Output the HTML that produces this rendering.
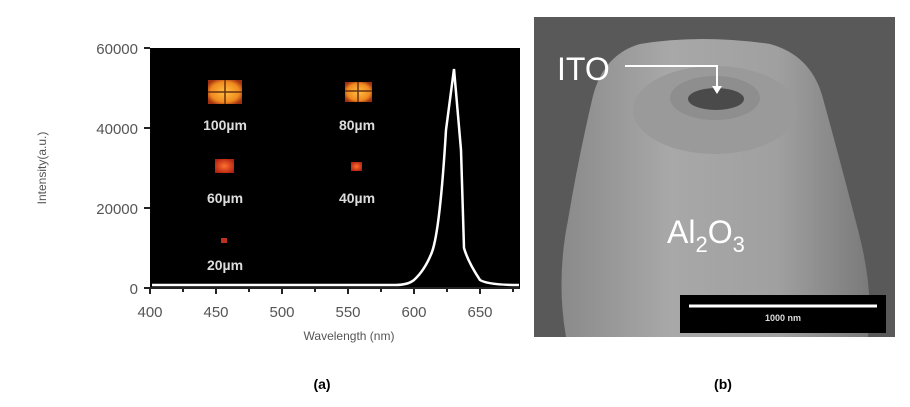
<!DOCTYPE html>
<html><head><style>
body{margin:0;width:910px;height:402px;background:#fff;overflow:hidden;font-family:"Liberation Sans",sans-serif}
</style></head><body>
<svg width="910" height="402" viewBox="0 0 910 402" xmlns="http://www.w3.org/2000/svg">
<defs>
<radialGradient id="sq" cx="50%" cy="50%" r="60%"><stop offset="0" stop-color="#ffc040"/><stop offset="0.7" stop-color="#f08a20"/><stop offset="1" stop-color="#a03010"/></radialGradient>
<radialGradient id="rd" cx="50%" cy="50%" r="60%"><stop offset="0" stop-color="#ff7030"/><stop offset="1" stop-color="#b02010"/></radialGradient>
<linearGradient id="cone" x1="0" y1="0" x2="1" y2="0"><stop offset="0" stop-color="#8a8a8a"/><stop offset="0.35" stop-color="#a8a8a8"/><stop offset="0.7" stop-color="#a0a0a0"/><stop offset="1" stop-color="#7a7a7a"/></linearGradient>
</defs>
<rect x="150" y="48" width="370" height="240" fill="#000"/>
<g stroke="#222" stroke-width="2">
<line x1="144" y1="48" x2="150" y2="48"/><line x1="144" y1="128" x2="150" y2="128"/><line x1="144" y1="208" x2="150" y2="208"/><line x1="144" y1="288" x2="150" y2="288"/>
<line x1="150" y1="288" x2="520" y2="288"/>
</g>
<g stroke="#222" stroke-width="2">
<line x1="150" y1="288" x2="150" y2="294"/><line x1="183" y1="288" x2="183" y2="292"/><line x1="216" y1="288" x2="216" y2="294"/><line x1="249" y1="288" x2="249" y2="292"/><line x1="282" y1="288" x2="282" y2="294"/><line x1="315" y1="288" x2="315" y2="292"/><line x1="348" y1="288" x2="348" y2="294"/><line x1="381" y1="288" x2="381" y2="292"/><line x1="414" y1="288" x2="414" y2="294"/><line x1="447" y1="288" x2="447" y2="292"/><line x1="480" y1="288" x2="480" y2="294"/><line x1="513" y1="288" x2="513" y2="292"/>
</g>
<g font-size="15" fill="#555" text-anchor="end">
<text x="138" y="54">60000</text><text x="138" y="134">40000</text><text x="138" y="214">20000</text><text x="138" y="294">0</text>
</g>
<g font-size="15" fill="#555" text-anchor="middle">
<text x="150" y="317">400</text><text x="216" y="317">450</text><text x="282" y="317">500</text><text x="348" y="317">550</text><text x="414" y="317">600</text><text x="480" y="317">650</text>
</g>
<text x="349" y="340" font-size="12" fill="#555" text-anchor="middle">Wavelength (nm)</text>
<text transform="translate(46,168) rotate(-90)" font-size="12" fill="#555" text-anchor="middle">Intensity(a.u.)</text>
<path d="M152,285 L395,285 Q408,285 414,280 Q425,270 432,252 Q440,230 446,130 L454,69 L461,150 L464,248 Q468,262 480,280 Q488,285 519,285" fill="none" stroke="#fff" stroke-width="2.5"/>
<rect x="208" y="80" width="34" height="24" fill="url(#sq)"/><line x1="225" y1="80" x2="225" y2="104" stroke="#6a3010" stroke-width="1.5"/><line x1="208" y1="92" x2="242" y2="92" stroke="#6a3010" stroke-width="1.5"/>
<rect x="345" y="82" width="27" height="20" fill="url(#sq)"/><line x1="358" y1="82" x2="358" y2="102" stroke="#6a3010" stroke-width="1.5"/><line x1="345" y1="91" x2="372" y2="91" stroke="#6a3010" stroke-width="1.5"/>
<rect x="215" y="159" width="19" height="14" fill="url(#rd)"/>
<rect x="351" y="162" width="11" height="9" fill="url(#rd)"/>
<rect x="221" y="238" width="6" height="5" fill="#c03020"/>
<g font-size="14" font-weight="bold" fill="#ddd" text-anchor="middle">
<text x="225" y="130">100µm</text><text x="357" y="130">80µm</text><text x="225" y="203">60µm</text><text x="357" y="203">40µm</text><text x="225" y="270">20µm</text>
</g>
<text x="322" y="389" font-size="14" font-weight="bold" fill="#000" text-anchor="middle">(a)</text>
<rect x="534" y="17" width="361" height="320" fill="#595959"/>
<path d="M566,337 Q556,280 568,220 Q578,160 592,100 Q602,55 640,44 Q700,34 770,44 Q810,55 822,95 Q840,160 858,230 Q874,290 868,337 Z" fill="url(#cone)"/>
<ellipse cx="715" cy="110" rx="82" ry="44" fill="#9a9a9a"/>
<ellipse cx="715" cy="98" rx="45" ry="22" fill="#8e8e8e"/>
<ellipse cx="716" cy="99" rx="28" ry="11" fill="#4a4a4a"/>
<text x="557" y="80" font-size="32" fill="#fff">ITO</text>
<path d="M625,66 L717,66 L717,88" fill="none" stroke="#fff" stroke-width="2"/>
<path d="M712,86 L717,94 L722,86 Z" fill="#fff"/>
<text x="667" y="243" font-size="32" fill="#fff">Al<tspan font-size="22" dy="9">2</tspan><tspan font-size="32" dy="-9">O</tspan><tspan font-size="22" dy="9">3</tspan></text>
<rect x="680" y="295" width="206" height="38" fill="#000"/>
<line x1="689" y1="306" x2="877" y2="306" stroke="#fff" stroke-width="3"/>
<text x="783" y="321" font-size="9" font-weight="bold" fill="#ddd" text-anchor="middle">1000 nm</text>
<text x="723" y="389" font-size="14" font-weight="bold" fill="#000" text-anchor="middle">(b)</text>
</svg>
</body></html>
